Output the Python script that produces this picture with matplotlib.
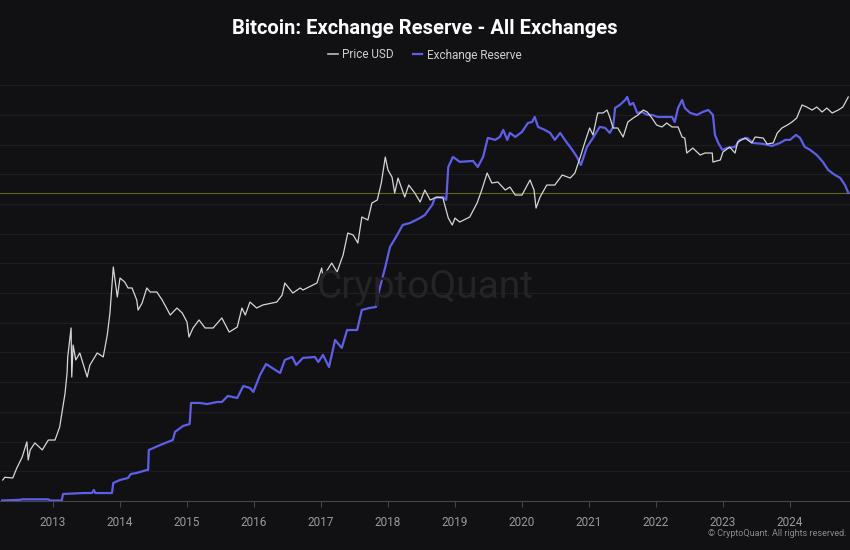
import matplotlib
matplotlib.use("Agg")
import matplotlib.pyplot as plt
from matplotlib.lines import Line2D

# ---- data ----
price_years = [
    2012.25, 2012.28, 2012.40, 2012.46, 2012.54, 2012.61, 2012.63, 2012.66, 2012.73, 2012.84,
    2012.93, 2013.03, 2013.10, 2013.18, 2013.21, 2013.22, 2013.27, 2013.28, 2013.30, 2013.34,
    2013.40, 2013.51, 2013.55, 2013.66, 2013.75, 2013.81, 2013.85, 2013.90, 2013.96, 2014.00,
    2014.07, 2014.12, 2014.18, 2014.25, 2014.27, 2014.33, 2014.40, 2014.45, 2014.55, 2014.63,
    2014.75, 2014.85, 2014.93, 2015.00, 2015.03, 2015.09, 2015.18, 2015.27, 2015.39, 2015.52,
    2015.63, 2015.75, 2015.82, 2015.87, 2015.94, 2016.04, 2016.13, 2016.34, 2016.42, 2016.46,
    2016.58, 2016.69, 2016.73, 2016.94, 2017.01, 2017.03, 2017.16, 2017.24, 2017.33, 2017.40,
    2017.48, 2017.55, 2017.61, 2017.70, 2017.76, 2017.84, 2017.90, 2017.96, 2018.00, 2018.06,
    2018.10, 2018.15, 2018.25, 2018.31, 2018.40, 2018.48, 2018.55, 2018.63, 2018.73, 2018.82,
    2018.90, 2018.96, 2019.00, 2019.07, 2019.22, 2019.33, 2019.40, 2019.48, 2019.55, 2019.64,
    2019.75, 2019.82, 2019.90, 2020.00, 2020.12, 2020.18, 2020.21, 2020.27, 2020.37, 2020.49,
    2020.60, 2020.72, 2020.79, 2020.87, 2020.94, 2021.01, 2021.06, 2021.13, 2021.21, 2021.27,
    2021.31, 2021.36, 2021.43, 2021.51, 2021.58, 2021.66, 2021.73, 2021.81, 2021.87, 2021.94,
    2022.01, 2022.09, 2022.16, 2022.24, 2022.33, 2022.39, 2022.43, 2022.46, 2022.55, 2022.66,
    2022.73, 2022.84, 2022.85, 2022.96, 2023.00, 2023.10, 2023.18, 2023.22, 2023.33, 2023.43,
    2023.48, 2023.60, 2023.66, 2023.75, 2023.81, 2023.88, 2023.96, 2024.03, 2024.10, 2024.15,
    2024.18, 2024.25, 2024.33, 2024.40, 2024.48, 2024.55, 2024.63, 2024.72, 2024.79, 2024.87,
]
price_usd = [
    5.7, 6.1, 6.0, 7.7, 10.1, 14.8, 9.4, 12.1, 14.4, 12.1,
    15.5, 15.5, 21.5, 50, 83, 124, 256, 75, 167, 115,
    137, 75, 101, 137, 124, 215, 372, 1178, 556, 894,
    809, 697, 697, 515, 401, 478, 697, 630, 630, 515,
    354, 422, 372, 297, 204, 256, 313, 256, 256, 329,
    231, 262, 422, 354, 490, 422, 455, 490, 584, 789,
    614, 697, 662, 789, 1148, 916, 1301, 1039, 1589, 2756,
    2624, 2147, 4115, 3819, 5845, 6297, 9638, 18480, 13340, 11200,
    7500, 10920, 6790, 9160, 7500, 5990, 8090, 6297, 6790, 6620,
    4010, 3370, 4010, 3630, 4115, 5845, 8090, 12380, 9638, 9880,
    8090, 8710, 7130, 7130, 10390, 8090, 5150, 6790, 9160, 9160,
    11770, 10920, 12380, 18480, 26900, 38190, 32060, 55590, 55590, 59850,
    50250, 38190, 38190, 30480, 44360, 48980, 52850, 59850, 56990, 48980,
    41120, 39170, 43260, 39170, 39170, 30480, 29720, 20420, 23130, 19410,
    20420, 20420, 16300, 17140, 20940, 23710, 20420, 26900, 29720, 26240,
    30480, 29720, 25590, 26240, 33650, 38190, 41120, 44360, 48980, 59850,
    67920, 64570, 59850, 64570, 56990, 62950, 55590, 59850, 64570, 82980,
]

reserve_years = [
    2012.24, 2012.51, 2012.54, 2012.93, 2012.96, 2013.13, 2013.15, 2013.45, 2013.58, 2013.61,
    2013.63, 2013.88, 2013.90, 2014.00, 2014.12, 2014.16, 2014.25, 2014.40, 2014.42, 2014.43,
    2014.60, 2014.79, 2014.82, 2014.94, 2015.04, 2015.06, 2015.19, 2015.30, 2015.45, 2015.52,
    2015.61, 2015.75, 2015.84, 2015.94, 2015.99, 2016.09, 2016.18, 2016.27, 2016.39, 2016.46,
    2016.57, 2016.63, 2016.73, 2016.91, 2016.96, 2017.03, 2017.12, 2017.21, 2017.31, 2017.39,
    2017.54, 2017.61, 2017.73, 2017.82, 2017.87, 2017.96, 2018.03, 2018.12, 2018.22, 2018.33,
    2018.48, 2018.55, 2018.66, 2018.70, 2018.82, 2018.87, 2018.90, 2018.97, 2019.07, 2019.27,
    2019.34, 2019.42, 2019.49, 2019.60, 2019.67, 2019.72, 2019.78, 2019.82, 2019.90, 2020.00,
    2020.09, 2020.15, 2020.19, 2020.24, 2020.34, 2020.42, 2020.49, 2020.57, 2020.64, 2020.75,
    2020.82, 2020.88, 2020.97, 2021.06, 2021.16, 2021.24, 2021.31, 2021.36, 2021.39, 2021.46,
    2021.54, 2021.57, 2021.61, 2021.66, 2021.72, 2021.79, 2021.87, 2021.94, 2022.03, 2022.13,
    2022.24, 2022.28, 2022.33, 2022.39, 2022.43, 2022.51, 2022.61, 2022.70, 2022.78, 2022.85,
    2022.88, 2022.93, 2022.99, 2023.06, 2023.18, 2023.25, 2023.36, 2023.45, 2023.60, 2023.73,
    2023.85, 2023.93, 2024.00, 2024.09, 2024.15, 2024.22, 2024.30, 2024.40, 2024.49, 2024.57,
    2024.67, 2024.75, 2024.82, 2024.87,
]
# millions of BTC
reserve_mbtc = [
    0.004, 0.010, 0.014, 0.014, 0.004, 0.004, 0.059, 0.067, 0.067, 0.093,
    0.067, 0.067, 0.152, 0.177, 0.194, 0.227, 0.236, 0.261, 0.261, 0.429,
    0.471, 0.514, 0.581, 0.631, 0.648, 0.825, 0.825, 0.816, 0.833, 0.833,
    0.884, 0.867, 0.968, 0.951, 0.918, 1.061, 1.153, 1.120, 1.077, 1.187,
    1.212, 1.145, 1.204, 1.212, 1.170, 1.229, 1.128, 1.355, 1.288, 1.439,
    1.439, 1.608, 1.625, 1.633, 1.776, 1.970, 2.138, 2.222, 2.323, 2.340,
    2.382, 2.407, 2.492, 2.551, 2.559, 2.534, 2.811, 2.896, 2.854, 2.862,
    2.811, 2.896, 3.056, 3.039, 3.064, 3.123, 3.039, 3.098, 3.064, 3.106,
    3.182, 3.189, 3.232, 3.148, 3.123, 3.098, 3.039, 3.098, 3.039, 2.955,
    2.896, 2.828, 2.980, 3.056, 3.148, 3.140, 3.098, 3.148, 3.308, 3.333,
    3.375, 3.401, 3.333, 3.350, 3.266, 3.274, 3.249, 3.249, 3.232, 3.232,
    3.232, 3.189, 3.308, 3.375, 3.308, 3.266, 3.249, 3.274, 3.291, 3.249,
    3.081, 3.013, 2.955, 2.971, 2.980, 3.039, 3.056, 3.013, 3.005, 2.988,
    3.013, 3.039, 3.039, 3.081, 3.056, 2.980, 2.955, 2.912, 2.854, 2.786,
    2.744, 2.719, 2.660, 2.593,
]
year_ticks = list(range(2013, 2025))

# ---- style ----
BG = "#111114"
PRICE_C = "#d6d6d6"
RES_C = "#5e5ee8"
TXT = "#9a9a9e"
FONT = ["Roboto", "DejaVu Sans"]

fig = plt.figure(figsize=(8.5, 5.5), dpi=100, facecolor=BG)
ax = fig.add_axes([0.0, 49 / 550, 1.0, 426 / 550], facecolor=BG)
ax2 = ax.twinx()

# reserve (left, linear)
ax.plot(reserve_years, reserve_mbtc, color=RES_C, lw=1.6, zorder=3)
ax.axhline(reserve_mbtc[-1], color="#66651f", lw=0.8, zorder=2)
ax.set_ylim(0, 3.585)
ax.set_yticks([i * 0.25 for i in range(15)])
ax.grid(axis="y", color="#1e1e22", lw=0.9)
ax.set_axisbelow(True)

# price (right, log)
ax2.plot(price_years, price_usd, color=PRICE_C, lw=0.9, zorder=3)
ax2.set_yscale("log")
ax2.set_ylim(3.37, 143900)

ax.set_xlim(2012.209, 2024.896)
ax.set_xticks(year_ticks)
ax.set_xticklabels([str(y) for y in year_ticks])
ax.tick_params(axis="x", colors="#44444a", labelcolor=TXT, length=4, width=0.8,
               labelsize=8.5, pad=7)
for lab in ax.get_xticklabels():
    lab.set_family(FONT)
ax.tick_params(axis="y", left=False, labelleft=False)
ax2.tick_params(axis="y", which="both", right=False, labelright=False)

for a in (ax, ax2):
    for s in ("top", "left", "right"):
        a.spines[s].set_visible(False)
    a.spines["bottom"].set_color("#44444a")
    a.spines["bottom"].set_linewidth(0.8)
ax2.spines["bottom"].set_visible(False)

# title + legend
fig.text(0.5, 1 - 29 / 550, "Bitcoin: Exchange Reserve - All Exchanges",
         ha="center", va="center", color="white", fontsize=14.5, fontweight="bold",
         family=FONT)
handles = [Line2D([], [], color="#bdbdbd", lw=1.2), Line2D([], [], color=RES_C, lw=1.6)]
fig.legend(handles, ["Price USD", "Exchange Reserve"], loc="center",
           bbox_to_anchor=(0.5, 1 - 55 / 550), ncol=2, frameon=False,
           handlelength=0.8, handletextpad=0.4, columnspacing=1.6,
           labelcolor="#cfcfcf", prop={"family": FONT, "size": 8.5})

# watermark + copyright
fig.text(425 / 850, 1 - 287 / 550, "CryptoQuant", ha="center", va="center",
         color="#242428", fontsize=28, family=FONT, zorder=0)
fig.text(846 / 850, 1 - 533 / 550, "\u00a9 CryptoQuant. All rights reserved.",
         ha="right", va="center", color="#8a8a8e", fontsize=6.5, family=FONT)

fig.savefig("out.png", dpi=100, facecolor=BG)
